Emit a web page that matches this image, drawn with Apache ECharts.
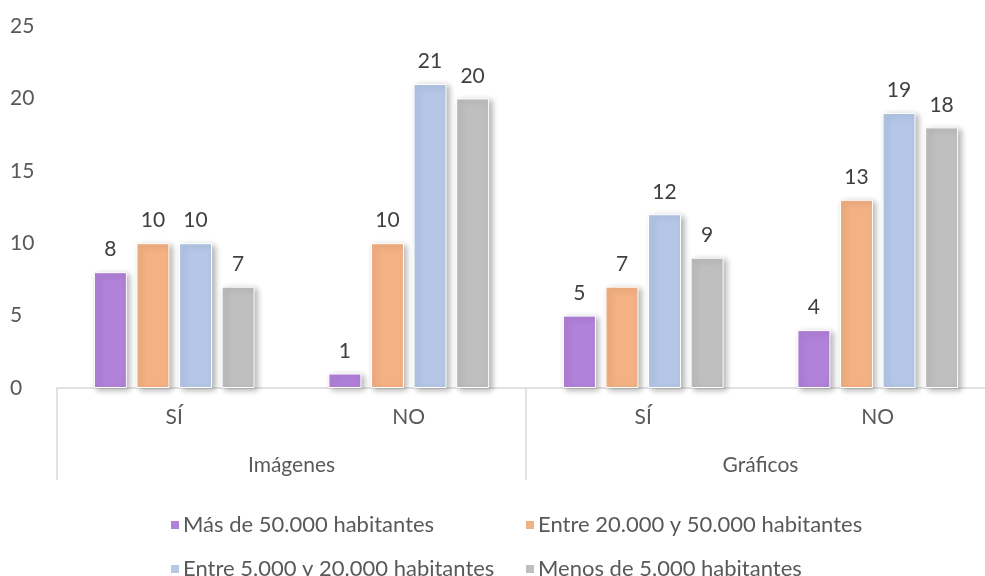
<!DOCTYPE html>
<html><head><meta charset="utf-8">
<script src="https://cdn.jsdelivr.net/npm/echarts@6/dist/echarts.min.js"></script>
<style>html,body{margin:0;padding:0;background:#fff;overflow:hidden}#c{width:995px;height:576px}</style>
</head><body><div id="c"></div>
<script>
var categories = ['SÍ', 'NO', 'SÍ', 'NO'];
var groups = ['Imágenes', 'Gráficos'];
var seriesNames = ['Más de 50.000 habitantes', 'Entre 20.000 y 50.000 habitantes', 'Entre 5.000 y 20.000 habitantes', 'Menos de 5.000 habitantes'];
var mas50000 = [8, 1, 5, 4];
var entre20y50 = [10, 10, 7, 13];
var entre5y20 = [10, 21, 12, 19];
var menos5000 = [7, 20, 9, 18];
var yTicks = [0, 5, 10, 15, 20, 25];

var colors = ['#B281D9', '#F4B183', '#B4C7E7', '#BFBFBF'];
var values = [mas50000, entre20y50, entre5y20, menos5000];
var FONT = 'Lato';
var chart = echarts.init(document.getElementById('c'));
var series = values.map(function (v, i) {
  return {
    name: seriesNames[i], type: 'bar', xAxisIndex: 0, data: v,
    barWidth: 33, barGap: '29%',
    itemStyle: { color: colors[i], borderColor: '#fff', borderWidth: 1,
      shadowBlur: 6, shadowOffsetX: 3, shadowOffsetY: 2, shadowColor: 'rgba(0,0,0,0.3)' },
    label: { show: true, position: 'top', distance: 12, color: '#404040', fontSize: 21, fontFamily: FONT }
  };
});
var legendPos = [[164, 509], [519, 509], [164, 553], [519, 553]];
var legends = seriesNames.map(function (n, i) {
  return { data: [n], left: legendPos[i][0], top: legendPos[i][1], icon: 'rect', itemWidth: 10, itemHeight: 10, itemGap: 0,
    textStyle: { color: '#595959', fontSize: 22, fontFamily: FONT, padding: [0, 0, 0, -2] } };
});
chart.setOption({
  animation: false,
  legend: legends,
  grid: { left: 57, top: 26, right: 0, bottom: 188, containLabel: false },
  xAxis: [
    { type: 'category', data: categories, position: 'bottom', offset: 0,
      axisLine: { show: true, lineStyle: { color: '#D9D9D9', width: 1.5 } },
      axisTick: { show: false },
      axisLabel: { color: '#595959', fontSize: 21, fontFamily: FONT, margin: 19 } },
    { type: 'category', data: groups, position: 'bottom', offset: 0, gridIndex: 0,
      axisLine: { show: false },
      axisTick: { show: true, length: 92, lineStyle: { color: '#D9D9D9', width: 1.5 } },
      axisLabel: { color: '#595959', fontSize: 21, fontFamily: FONT, margin: 67 } }
  ],
  yAxis: { type: 'value', min: yTicks[0], max: yTicks[yTicks.length - 1], interval: 5,
    splitLine: { show: false }, axisLine: { show: false }, axisTick: { show: false },
    axisLabel: { color: '#595959', fontSize: 21, fontFamily: FONT, align: 'left', margin: 47 } },
  series: series
});
</script></body></html>
